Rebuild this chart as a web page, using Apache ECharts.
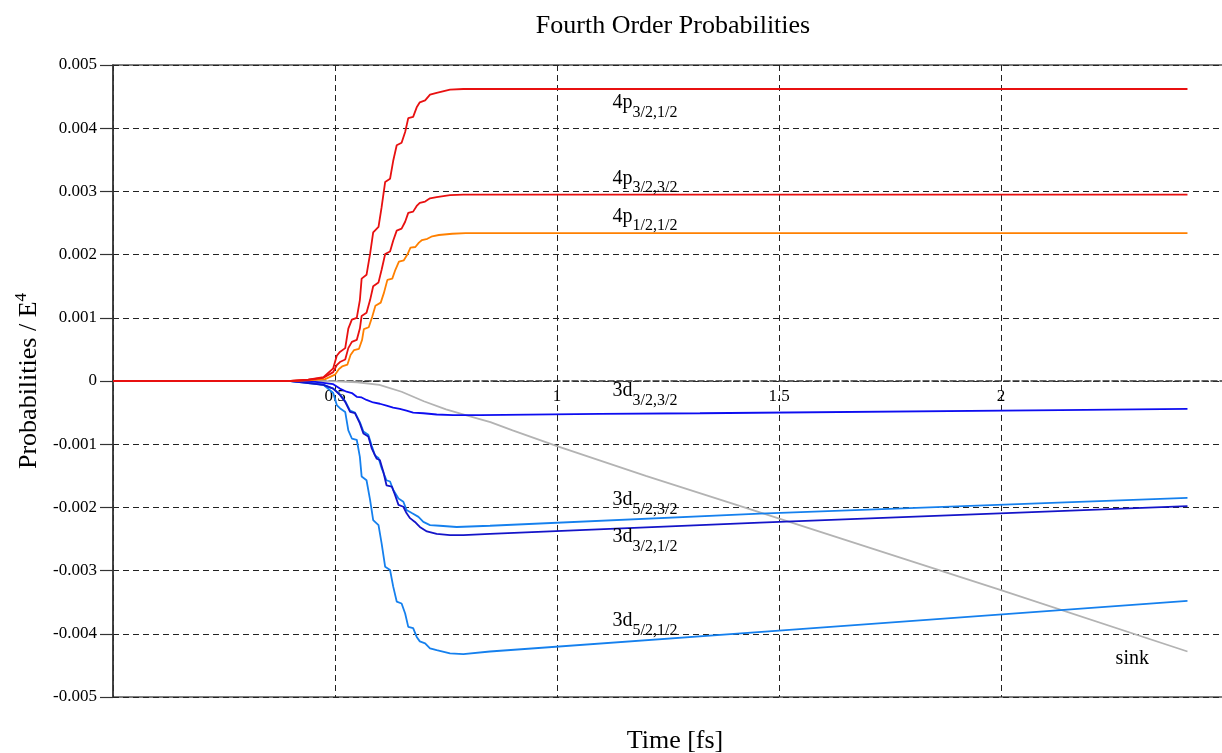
<!DOCTYPE html>
<html>
<head>
<meta charset="utf-8">
<script src="https://cdn.jsdelivr.net/npm/echarts@6/dist/echarts.min.js"></script>
<style>html,body{margin:0;padding:0;background:#fff}#c{width:1222px;height:753px}</style>
</head>
<body>
<div id="c"></div>
<script>
// ---- data (time in fs, probabilities / E^4) ----
const p32_12 = [[0,0],[0.40,0],[0.44,0.00002],[0.474,0.00006],[0.496,0.00020],[0.504,0.00040],[0.511,0.00046],[0.523,0.00052],[0.530,0.00083],[0.538,0.00097],[0.549,0.00100],[0.556,0.00128],[0.560,0.00162],[0.571,0.00168],[0.579,0.00201],[0.586,0.00235],[0.598,0.00244],[0.605,0.00275],[0.613,0.00315],[0.624,0.00320],[0.631,0.00348],[0.639,0.00373],[0.650,0.00377],[0.658,0.00394],[0.665,0.00416],[0.676,0.00418],[0.684,0.00433],[0.691,0.00441],[0.703,0.00444],[0.714,0.00453],[0.729,0.00456],[0.759,0.00461],[0.789,0.00462],[2.42,0.00462]];
const p32_32 = [[0,0],[0.40,0],[0.44,0.00002],[0.474,0.00005],[0.496,0.00014],[0.504,0.00025],[0.511,0.00030],[0.523,0.00034],[0.530,0.00052],[0.538,0.00062],[0.549,0.00065],[0.556,0.00083],[0.560,0.00103],[0.571,0.00108],[0.579,0.00128],[0.586,0.00150],[0.598,0.00156],[0.605,0.00176],[0.613,0.00201],[0.624,0.00205],[0.631,0.00222],[0.639,0.00238],[0.650,0.00241],[0.658,0.00252],[0.665,0.00266],[0.676,0.00268],[0.684,0.00277],[0.691,0.00282],[0.703,0.00284],[0.714,0.00289],[0.729,0.00291],[0.759,0.00294],[0.789,0.00295],[2.42,0.00295]];
const p12_12 = [[0,0],[0.40,0],[0.44,0.00001],[0.478,0.00003],[0.500,0.00010],[0.509,0.00019],[0.516,0.00023],[0.528,0.00026],[0.535,0.00041],[0.543,0.00049],[0.554,0.00051],[0.561,0.00065],[0.565,0.00082],[0.576,0.00085],[0.584,0.00102],[0.591,0.00119],[0.603,0.00124],[0.610,0.00139],[0.618,0.00160],[0.629,0.00162],[0.636,0.00176],[0.644,0.00189],[0.655,0.00191],[0.663,0.00200],[0.670,0.00211],[0.681,0.00212],[0.689,0.00219],[0.696,0.00223],[0.708,0.00225],[0.719,0.00229],[0.734,0.00231],[0.764,0.00233],[0.794,0.00234],[2.42,0.00234]];
const d32_32 = [[0,0],[0.40,0],[0.451,-0.00001],[0.496,-0.00005],[0.511,-0.00012],[0.526,-0.00017],[0.538,-0.00019],[0.549,-0.00025],[0.560,-0.00026],[0.571,-0.00030],[0.586,-0.00034],[0.601,-0.00036],[0.616,-0.00039],[0.631,-0.00042],[0.646,-0.00044],[0.661,-0.00047],[0.676,-0.00050],[0.699,-0.00051],[0.729,-0.00053],[0.766,-0.00054],[0.827,-0.00054],[1.097,-0.00052],[1.322,-0.00051],[2.133,-0.00046],[2.42,-0.00044]];
const d52_32 = [[0,0],[0.40,0],[0.474,-0.00006],[0.496,-0.00012],[0.511,-0.00021],[0.523,-0.00032],[0.534,-0.00047],[0.545,-0.00050],[0.556,-0.00065],[0.564,-0.00080],[0.575,-0.00085],[0.583,-0.00103],[0.590,-0.00118],[0.598,-0.00122],[0.605,-0.00138],[0.616,-0.00157],[0.624,-0.00159],[0.631,-0.00172],[0.643,-0.00186],[0.654,-0.00191],[0.661,-0.00204],[0.673,-0.00209],[0.688,-0.00215],[0.699,-0.00223],[0.714,-0.00228],[0.736,-0.00229],[0.774,-0.00231],[0.849,-0.00229],[1.457,-0.00210],[2.42,-0.00185]];
const d32_12 = [[0,0],[0.40,0],[0.474,-0.00006],[0.496,-0.00012],[0.511,-0.00022],[0.523,-0.00033],[0.534,-0.00049],[0.545,-0.00051],[0.556,-0.00067],[0.564,-0.00083],[0.575,-0.00088],[0.583,-0.00107],[0.594,-0.00123],[0.601,-0.00125],[0.609,-0.00144],[0.616,-0.00165],[0.628,-0.00167],[0.635,-0.00180],[0.643,-0.00196],[0.654,-0.00199],[0.661,-0.00209],[0.669,-0.00217],[0.680,-0.00223],[0.691,-0.00231],[0.707,-0.00238],[0.729,-0.00242],[0.759,-0.00244],[0.789,-0.00244],[0.849,-0.00242],[1.457,-0.00224],[2.42,-0.00198]];
const d52_12 = [[0,0],[0.40,0],[0.44,-0.00002],[0.474,-0.00006],[0.496,-0.00019],[0.504,-0.00038],[0.511,-0.00043],[0.523,-0.00049],[0.530,-0.00078],[0.538,-0.00091],[0.549,-0.00093],[0.556,-0.00120],[0.560,-0.00151],[0.571,-0.00157],[0.579,-0.00188],[0.586,-0.00220],[0.598,-0.00228],[0.605,-0.00257],[0.613,-0.00294],[0.624,-0.00299],[0.631,-0.00325],[0.639,-0.00349],[0.650,-0.00352],[0.658,-0.00368],[0.665,-0.00389],[0.676,-0.00391],[0.684,-0.00405],[0.691,-0.00412],[0.703,-0.00415],[0.714,-0.00423],[0.729,-0.00426],[0.759,-0.00431],[0.789,-0.00432],[0.849,-0.00428],[1.5,-0.00395],[2.42,-0.00348]];
const sink = [[0,0],[0.45,0],[0.50,-0.000005],[0.55,-0.00002],[0.60,-0.00006],[0.65,-0.00017],[0.70,-0.00032],[0.75,-0.00045],[0.80,-0.00055],[0.85,-0.00065],[0.90,-0.00078],[1.0,-0.00103],[1.2,-0.00150],[1.457,-0.00208],[2.0,-0.00331],[2.42,-0.00428]];

const labelMain = ['4p','4p','4p','3d','3d','3d','3d','sink'];
const labelSub  = ['3/2,1/2','3/2,3/2','1/2,1/2','3/2,3/2','5/2,3/2','3/2,1/2','5/2,1/2',''];
const labelAt   = [[1.124,0.0044],[1.124,0.0032],[1.124,0.0026],[1.124,-0.00016],[1.124,-0.00188],[1.124,-0.00247],[1.124,-0.0038],[2.257,-0.0044]];

const titleText = 'Fourth Order Probabilities';
const xName = 'Time [fs]';

// ---- chart ----
const FONT = 'Liberation Serif';
const chart = echarts.init(document.getElementById('c'), null, {renderer:'canvas'});
const mk = (name, data, color) => ({
  name, type:'line', data, showSymbol:false, symbol:'none', smooth:false,
  lineStyle:{color, width:1.8}, itemStyle:{color}, animation:false, z:3
});
const labelData = labelAt.map((p,i)=>({
  value:p,
  label:{formatter: labelSub[i] ? '{m|'+labelMain[i]+'}{s|'+labelSub[i]+'}' : '{m|'+labelMain[i]+'}'}
}));
chart.setOption({
  animation:false,
  backgroundColor:'#fff',
  title:[
    {text:titleText, left:668, top:8, textAlign:'center',
     textStyle:{fontFamily:FONT, fontSize:26, fontWeight:'normal', color:'#000'}},
    {text:xName, left:670, top:723, textAlign:'center',
     textStyle:{fontFamily:FONT, fontSize:26, fontWeight:'normal', color:'#000'}}
  ],
  grid:{left:113, top:65, bottom:56, right:-1, show:true, borderColor:'#555', borderWidth:1.5,
        backgroundColor:'transparent', containLabel:false, outerBoundsMode:'none'},
  xAxis:{
    type:'value', min:0, max:2.5, interval:0.5, position:'bottom', offset:-316,
    axisLine:{show:true, onZero:false, lineStyle:{color:'#333', width:1.5, type:[6,3]}},
    axisTick:{show:false},
    axisLabel:{fontFamily:FONT, fontSize:17, color:'#000', margin:7,
      formatter:v=> (Math.abs(v)<1e-9 || Math.abs(v-2.5)<1e-9) ? '' : String(+v.toFixed(2))},
    splitLine:{show:true, lineStyle:{color:'#222', width:1, type:[6,4]}}
  },
  yAxis:{
    type:'value', min:-0.005, max:0.005, interval:0.001,
    name:'{a|Probabilities / E}{b|4}', nameLocation:'middle', nameGap:61, nameRotate:90,
    nameTextStyle:{fontFamily:FONT, fontSize:26, color:'#000',
      rich:{a:{fontFamily:FONT, fontSize:26, color:'#000'}, b:{fontFamily:FONT, fontSize:17, color:'#000', padding:[0,0,16,0]}}},
    axisLine:{show:true, onZero:false, lineStyle:{color:'#333', width:1.5}},
    axisTick:{show:true, length:13, inside:false, lineStyle:{color:'#333', width:1.2}},
    axisLabel:{fontFamily:FONT, fontSize:17, color:'#000', margin:16,
      formatter:v=>{const s=v.toFixed(3); return (s==='0.000'||s==='-0.000')?'0':s;}},
    splitLine:{show:true, lineStyle:{color:'#222', width:1, type:[6,4]}}
  },
  series:[
    mk('sink', sink, '#b3b3b3'),
    mk('3d5/2,1/2', d52_12, '#1580ee'),
    mk('3d5/2,3/2', d52_32, '#1580ee'),
    mk('3d3/2,1/2', d32_12, '#1414c8'),
    mk('3d3/2,3/2', d32_32, '#0d0df0'),
    mk('4p1/2,1/2', p12_12, '#ff8000'),
    mk('4p3/2,3/2', p32_32, '#e81010'),
    mk('4p3/2,1/2', p32_12, '#e81010'),
    {type:'scatter', data:labelData, symbol:'circle', symbolSize:1, itemStyle:{color:'#000', opacity:0},
     z:5, silent:true,
     label:{show:true, position:'right', distance:0, color:'#000', opacity:1, textBorderWidth:0,
       rich:{m:{fontFamily:FONT, fontSize:20, color:'#000', opacity:1}, s:{fontFamily:FONT, fontSize:16, color:'#000', opacity:1, padding:[19,0,0,0]}}}}
  ]
});
</script>
</body>
</html>
